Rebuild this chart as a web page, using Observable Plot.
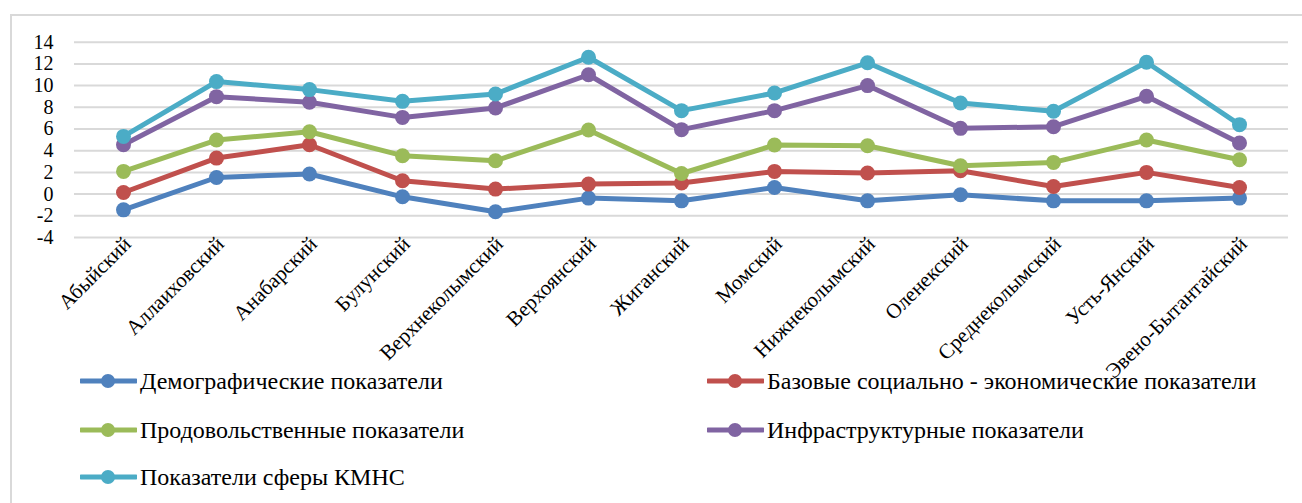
<!DOCTYPE html>
<html><head><meta charset="utf-8">
<script src="https://cdn.jsdelivr.net/npm/d3@7"></script>
<script src="https://cdn.jsdelivr.net/npm/@observablehq/plot@0.6"></script>
<style>
html,body{margin:0;padding:0;background:#fff;}
#wrap{position:relative;width:1302px;height:503px;overflow:hidden;font-family:'Liberation Serif','Times New Roman',Tinos,'DejaVu Serif','Noto Serif',serif;}
#frame{position:absolute;left:10px;top:14px;width:1400px;height:600px;border-left:2px solid #d9d9d9;border-top:2px solid #d9d9d9;}
#chart{position:absolute;left:0;top:0;}
#chart svg text{font-family:'Liberation Serif','Times New Roman',Tinos,'DejaVu Serif','Noto Serif',serif;}
.leg{position:absolute;display:flex;align-items:center;font-size:24px;color:#000;white-space:nowrap;}
.leg svg{margin-right:3px;}
</style></head>
<body><div id="wrap"><div id="frame"></div><div id="chart"></div><div id="legend"></div></div>
<script>
const categories = ["Абыйский","Аллаиховский","Анабарский","Булунский","Верхнеколымский","Верхоянский","Жиганский","Момский","Нижнеколымский","Оленекский","Среднеколымский","Усть-Янский","Эвено-Бытантайский"];
const seriesNames = ["Демографические показатели","Базовые социально - экономические показатели","Продовольственные показатели","Инфраструктурные показатели","Показатели сферы КМНС"];
const seriesColors = ["#4F81BD","#C0504D","#9BBB59","#8064A2","#4BACC6"];
const demog = [-1.45, 1.53, 1.85, -0.25, -1.63, -0.37, -0.62, 0.61, -0.62, -0.06, -0.62, -0.62, -0.37];
const base  = [0.15, 3.32, 4.55, 1.23, 0.46, 0.92, 1.02, 2.09, 1.94, 2.15, 0.70, 2.00, 0.61];
const food  = [2.09, 4.98, 5.75, 3.54, 3.07, 5.91, 1.90, 4.52, 4.46, 2.61, 2.92, 4.98, 3.17];
const infra = [4.55, 8.98, 8.46, 7.07, 7.94, 11.0, 5.94, 7.69, 10.0, 6.06, 6.21, 9.01, 4.71];
const kmns  = [5.32, 10.37, 9.63, 8.55, 9.23, 12.61, 7.69, 9.32, 12.1, 8.40, 7.63, 12.15, 6.40];
const yTicks = [-4,-2,0,2,4,6,8,10,12,14];

const seriesValues = [demog, base, food, infra, kmns];
const rows = [];
seriesValues.forEach((vals, si) => vals.forEach((v, i) => rows.push({series: seriesNames[si], cat: categories[i], v})));

const chart = Plot.plot({
  width: 1302, height: 350,
  marginLeft: 74, marginRight: 14, marginTop: 41.7, marginBottom: 113,
  style: {background: "transparent", overflow: "visible"},
  x: {type: "point", domain: categories, padding: 0.5, label: null},
  y: {domain: [-4, 14], label: null},
  color: {domain: seriesNames, range: seriesColors},
  marks: [
    Plot.ruleY(yTicks, {stroke: "#d9d9d9", strokeWidth: 2}),
    Plot.axisY({ticks: yTicks, tickSize: 0, tickPadding: 21, fontSize: 20, label: null, tickFormat: d => d < 0 ? "-" + Math.abs(d) : d}),
    Plot.axisX({tickSize: 0, tickRotate: -45, fontSize: 21, tickPadding: 3, dx: 4, label: null}),
    Plot.line(rows, {x: "cat", y: "v", z: "series", stroke: "series", strokeWidth: 5, curve: "linear"}),
    Plot.dot(rows, {x: "cat", y: "v", fill: "series", r: 7.5})
  ]
});
document.getElementById("chart").appendChild(chart);

const legendPos = [[80,381],[707,381],[80,430],[707,430],[80,477]];
const leg = document.getElementById("legend");
seriesNames.forEach((name, i) => {
  const d = document.createElement("div");
  d.className = "leg";
  d.style.left = legendPos[i][0] + "px";
  d.style.top = (legendPos[i][1] - 15) + "px";
  d.style.height = "30px";
  d.innerHTML = `<svg width="57" height="20"><line x1="1" y1="10" x2="56" y2="10" stroke="${seriesColors[i]}" stroke-width="5" stroke-linecap="round"/><circle cx="28" cy="10" r="7" fill="${seriesColors[i]}"/></svg><span>${name}</span>`;
  leg.appendChild(d);
});
</script></body></html>
